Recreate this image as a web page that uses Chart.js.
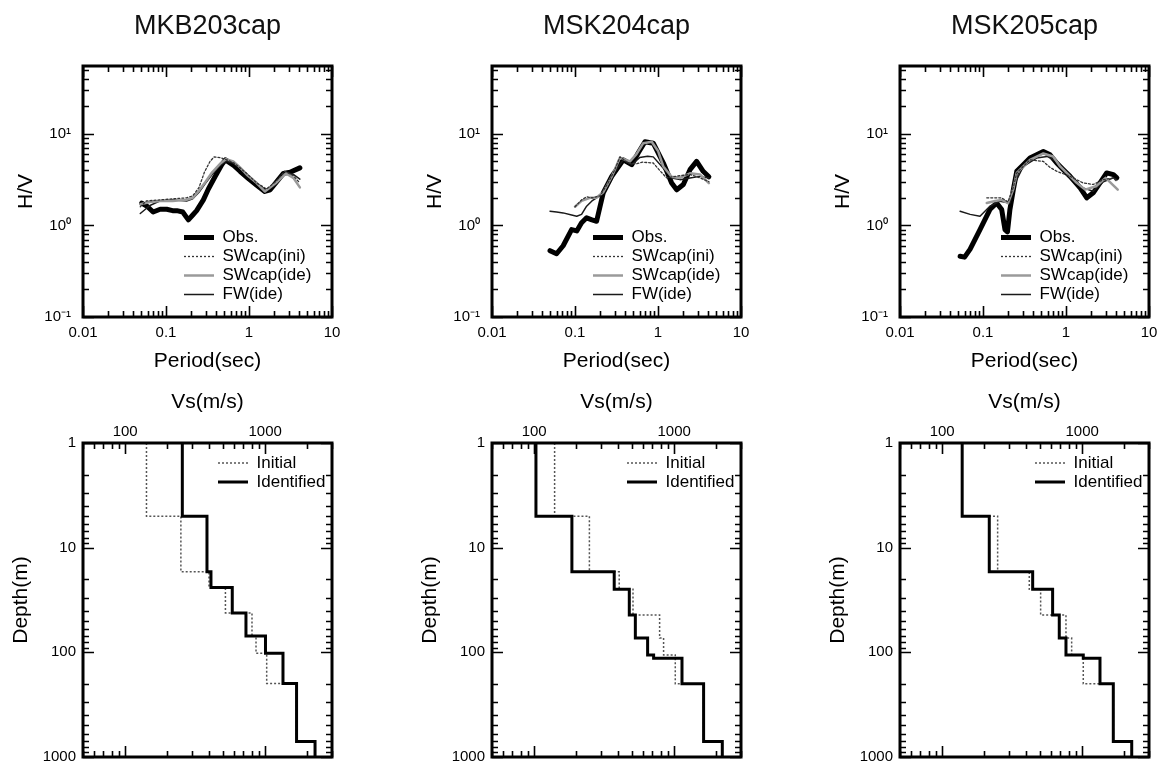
<!DOCTYPE html>
<html>
<head>
<meta charset="utf-8">
<script src="https://cdn.jsdelivr.net/npm/chart.js@4.4.1/dist/chart.umd.min.js"></script>
<style>
  body { margin: 0; background: #fff; }
  #wrap { position: relative; width: 1161px; height: 762px; overflow: hidden; background: #fff; }
  canvas { position: absolute; }
</style>
</head>
<body>
<div id="wrap">
  <canvas id="hv1" width="415" height="390" style="left:0;top:0"></canvas>
  <canvas id="hv2" width="415" height="390" style="left:409px;top:0"></canvas>
  <canvas id="hv3" width="415" height="390" style="left:817px;top:0"></canvas>
  <canvas id="vs1" width="415" height="372" style="left:0;top:390px"></canvas>
  <canvas id="vs2" width="415" height="372" style="left:409px;top:390px"></canvas>
  <canvas id="vs3" width="415" height="372" style="left:817px;top:390px"></canvas>
</div>
<script>
Chart.defaults.font.family = "'Liberation Sans', Arial, Helvetica, sans-serif";
Chart.defaults.color = '#000';

const siteNames = ['MKB203cap', 'MSK204cap', 'MSK205cap'];
const seriesNames = ['Obs.', 'SWcap(ini)', 'SWcap(ide)', 'FW(ide)'];
const profileNames = ['Initial', 'Identified'];

const periodTicks = [0.01, 0.1, 1, 10];
const periodTickLabels = ['0.01', '0.1', '1', '10'];
const hvTicks = [0.1, 1, 10];
const hvTickLabels = ['10⁻¹', '10⁰', '10¹'];
const vsTicks = [100, 1000];
const vsTickLabels = ['100', '1000'];
const depthTicks = [1, 10, 100, 1000];
const depthTickLabels = ['1', '10', '100', '1000'];

// MKB203cap  H/V spectra (period sec, H/V)
const mkbObsT = [0.051, 0.06, 0.07, 0.085, 0.102, 0.12, 0.135, 0.159, 0.186, 0.21, 0.234, 0.282, 0.324, 0.389, 0.469, 0.52, 0.66, 0.78, 1.0, 1.24, 1.55, 1.8, 2.16, 2.6, 3.12, 4.1];
const mkbObsHV = [1.75, 1.6, 1.4, 1.5, 1.5, 1.45, 1.45, 1.4, 1.15, 1.3, 1.45, 1.9, 2.5, 3.4, 4.6, 5.2, 4.5, 3.9, 3.2, 2.75, 2.35, 2.45, 3.0, 3.7, 3.8, 4.25];
const mkbIniT = [0.049, 0.058, 0.085, 0.12, 0.177, 0.21, 0.25, 0.29, 0.339, 0.38, 0.45, 0.539, 0.66, 0.938, 1.24, 1.63, 2.1, 2.7, 3.42, 4.1];
const mkbIniHV = [1.6, 1.85, 1.9, 1.95, 2.0, 2.1, 2.6, 3.8, 5.0, 5.6, 5.5, 5.2, 4.8, 3.7, 2.9, 2.5, 3.0, 3.9, 3.5, 2.9];
const mkbIdeT = [0.049, 0.064, 0.085, 0.12, 0.177, 0.21, 0.25, 0.3, 0.36, 0.448, 0.53, 0.647, 0.78, 0.938, 1.24, 1.55, 2.1, 2.8, 3.42, 4.1];
const mkbIdeHV = [1.7, 1.8, 1.85, 1.85, 1.9, 2.0, 2.4, 3.0, 3.8, 4.7, 5.3, 5.0, 4.3, 3.6, 2.9, 2.35, 2.9, 3.7, 3.3, 2.6];
const mkbFwT = [0.049, 0.064, 0.085, 0.12, 0.177, 0.21, 0.25, 0.3, 0.36, 0.448, 0.53, 0.647, 0.78, 0.938, 1.24, 1.55, 2.1, 2.8, 3.42, 4.1];
const mkbFwHV = [1.35, 1.65, 1.85, 1.9, 1.85, 1.95, 2.3, 2.9, 3.6, 4.5, 5.0, 4.8, 4.2, 3.5, 2.9, 2.3, 2.8, 3.8, 3.6, 3.2];

// MSK204cap
const s204ObsT = [0.05, 0.06, 0.072, 0.091, 0.105, 0.12, 0.138, 0.16, 0.182, 0.219, 0.277, 0.382, 0.482, 0.579, 0.697, 0.877, 1.16, 1.46, 1.68, 2.02, 2.43, 2.92, 3.5, 4.1];
const s204ObsHV = [0.53, 0.49, 0.6, 0.9, 0.87, 1.07, 1.21, 1.15, 1.11, 2.27, 3.43, 5.2, 4.6, 6.2, 8.2, 7.9, 4.8, 2.9, 2.45, 2.8, 4.06, 5.0, 3.9, 3.4];
const s204IniT = [0.1, 0.12, 0.138, 0.16, 0.2, 0.25, 0.3, 0.348, 0.44, 0.55, 0.65, 0.877, 1.1, 1.27, 1.68, 2.43, 3.2, 4.1];
const s204IniHV = [1.6, 1.9, 2.05, 2.0, 2.1, 2.9, 4.0, 5.6, 4.8, 4.7, 4.9, 4.8, 3.8, 3.3, 3.45, 3.6, 3.3, 3.0];
const s204IdeT = [0.1, 0.12, 0.152, 0.18, 0.219, 0.277, 0.348, 0.46, 0.55, 0.665, 0.84, 1.0, 1.16, 1.46, 1.84, 2.43, 3.2, 4.1];
const s204IdeHV = [1.6, 1.85, 2.0, 2.0, 2.3, 3.4, 5.5, 5.0, 6.0, 7.9, 8.2, 6.5, 4.4, 3.4, 3.3, 3.7, 3.6, 2.9];
const s204FwT = [0.05, 0.06, 0.072, 0.091, 0.105, 0.12, 0.138, 0.16, 0.182, 0.219, 0.277, 0.382, 0.482, 0.6, 0.75, 0.877, 1.16, 1.46, 1.84, 2.43, 3.2, 4.1];
const s204FwHV = [1.43, 1.4, 1.37, 1.3, 1.26, 1.32, 1.62, 1.85, 2.0, 2.27, 3.43, 5.2, 4.6, 5.5, 5.7, 5.6, 4.2, 3.3, 3.16, 3.3, 3.43, 3.3];

// MSK205cap
const s205ObsT = [0.053, 0.06, 0.07, 0.092, 0.121, 0.146, 0.168, 0.184, 0.197, 0.211, 0.232, 0.255, 0.306, 0.368, 0.443, 0.533, 0.642, 0.773, 0.93, 1.12, 1.48, 1.78, 2.13, 2.57, 3.09, 3.72, 4.1];
const s205ObsHV = [0.46, 0.45, 0.55, 0.9, 1.49, 1.76, 1.49, 0.9, 0.85, 1.49, 2.46, 3.89, 4.6, 5.44, 5.9, 6.4, 5.9, 4.8, 4.06, 3.43, 2.57, 2.0, 2.27, 2.91, 3.74, 3.58, 3.3];
const s205IniT = [0.111, 0.13, 0.168, 0.2, 0.232, 0.255, 0.368, 0.533, 0.64, 0.773, 1.12, 1.6, 2.13, 2.82, 3.72, 4.1];
const s205IniHV = [2.0, 2.0, 2.0, 1.8, 2.6, 3.74, 5.2, 5.0, 4.3, 3.9, 3.43, 2.91, 2.8, 3.16, 3.3, 3.0];
const s205IdeT = [0.111, 0.14, 0.168, 0.2, 0.232, 0.255, 0.368, 0.533, 0.7, 0.85, 1.3, 1.7, 2.3, 3.0, 4.2];
const s205IdeHV = [1.76, 1.85, 1.9, 1.75, 2.5, 3.74, 5.2, 6.1, 5.66, 4.4, 3.0, 2.46, 2.68, 3.3, 2.46];
const s205FwT = [0.053, 0.07, 0.092, 0.121, 0.16, 0.211, 0.243, 0.306, 0.443, 0.59, 0.773, 1.12, 1.6, 2.13, 2.82, 3.72, 4.1];
const s205FwHV = [1.43, 1.32, 1.26, 1.62, 1.84, 1.76, 2.9, 4.4, 5.44, 5.66, 5.0, 3.43, 2.57, 2.36, 3.0, 3.3, 3.16];

// Vs profiles: layer boundaries (m) and layer velocities (m/s)
const mkbDepth = [1, 5, 17, 24, 42, 70, 102, 198, 713, 1000];
const mkbVsIni = [142, 250, 397, 520, 805, 860, 1025, 1675, 2270];
const mkbVsIde = [256, 384, 410, 582, 729, 1005, 1340, 1675, 2270];

const s204Depth = [1, 5, 17, 25, 44, 73, 106, 114, 200, 713, 1000];
const s204VsIni = [140, 248, 405, 508, 787, 840, 1018, 1018, 1622, 2206];
const s204VsIde = [103, 186, 373, 478, 528, 646, 713, 1137, 1622, 2206];

const s205Depth = [1, 5, 17, 25, 44, 73, 106, 114, 200, 713, 1000];
const s205VsIni = [139, 249, 419, 505, 766, 841, 1018, 1018, 1668, 2258];
const s205VsIde = [139, 217, 443, 615, 686, 766, 1018, 1340, 1668, 2258];

const hvStyles = [
  {borderColor: '#000', borderWidth: 5, order: 1},
  {borderColor: '#333', borderWidth: 1.3, borderDash: [2, 2], order: 0},
  {borderColor: '#9a9a9a', borderWidth: 2.5, order: 0},
  {borderColor: '#1a1a1a', borderWidth: 1.5, order: 0}
];
const vsStyles = [
  {borderColor: '#555', borderWidth: 1.5, borderDash: [2, 2], order: 1},
  {borderColor: '#000', borderWidth: 3, order: 0}
];

function pts(xs, ys) {
  return xs.map((x, i) => ({x: x, y: ys[i]}));
}

// step profile: velocity of each layer from its top depth, closed at the last depth
function steps(vs, depth) {
  const p = vs.map((v, i) => ({x: v, y: depth[i]}));
  p.push({x: vs[vs.length - 1], y: depth[depth.length - 1]});
  return p;
}

function fixedTicks(values) {
  return scale => { scale.ticks = values.map(v => ({value: v})); };
}

function fixSize(prop, size) {
  return scale => {
    scale[prop] = size;
    scale.paddingLeft = scale.paddingRight = scale.paddingTop = scale.paddingBottom = 0;
  };
}

function logTicks(min, max) {
  const out = [];
  for (let e = Math.floor(Math.log10(min)); e <= Math.ceil(Math.log10(max)); e++) {
    for (let m = 1; m <= 9; m++) {
      const v = m * Math.pow(10, e);
      if (v >= min * 0.999 && v <= max * 1.001) out.push([v, m === 1]);
    }
  }
  return out;
}

// box frame with inward ticks on all four sides
const frame = {
  id: 'frame',
  afterDatasetsDraw(chart) {
    const {ctx, chartArea: a, scales: {x, y}} = chart;
    ctx.save();
    ctx.strokeStyle = '#000';
    ctx.lineWidth = 1.6;
    ctx.beginPath();
    logTicks(x.min, x.max).forEach(([v, major]) => {
      const px = Math.round(x.getPixelForValue(v)) + 0.5;
      const len = major ? 11 : 6;
      ctx.moveTo(px, a.top); ctx.lineTo(px, a.top + len);
      ctx.moveTo(px, a.bottom); ctx.lineTo(px, a.bottom - len);
    });
    logTicks(y.min, y.max).forEach(([v, major]) => {
      const py = Math.round(y.getPixelForValue(v)) + 0.5;
      const len = major ? 11 : 6;
      ctx.moveTo(a.left, py); ctx.lineTo(a.left + len, py);
      ctx.moveTo(a.right, py); ctx.lineTo(a.right - len, py);
    });
    ctx.stroke();
    ctx.lineWidth = 3;
    ctx.strokeRect(a.left, a.top, a.right - a.left, a.bottom - a.top);
    ctx.restore();
  }
};

// moves the chartArea legend to an offset inside the plot, centres the title on the plot
const placeLegend = {
  id: 'placeLegend',
  afterLayout(chart, args, opts) {
    const lg = chart.legend, a = chart.chartArea;
    if (lg) {
      lg.left = a.left + opts.x;
      lg.top = a.top + opts.y;
      lg.right = lg.left + lg.width;
      lg.bottom = lg.top + lg.height;
    }
    if (chart.titleBlock) {
      chart.titleBlock.left = a.left;
      chart.titleBlock.right = a.right;
    }
  }
};

function legendOpts() {
  return {
    position: 'chartArea',
    align: 'start',
    labels: {
      usePointStyle: true,
      pointStyle: 'line',
      pointStyleWidth: 30,
      padding: 2,
      color: '#000',
      font: {size: 17},
      generateLabels: chart => Chart.defaults.plugins.legend.labels.generateLabels(chart).map(l => {
        const ds = chart.data.datasets[l.datasetIndex];
        l.lineDash = ds.borderDash || [];
        l.lineWidth = ds.borderWidth;
        l.lineCap = 'butt';
        return l;
      }),
      sort: (a, b) => a.datasetIndex - b.datasetIndex
    }
  };
}

function hvChart(id, title, series) {
  new Chart(document.getElementById(id), {
    type: 'line',
    data: {
      datasets: series.map((d, i) => Object.assign({
        label: seriesNames[i],
        data: d,
        pointRadius: 0,
        fill: false,
        tension: 0,
        borderCapStyle: 'round',
        borderJoinStyle: 'round'
      }, hvStyles[i]))
    },
    options: {
      responsive: false,
      animation: false,
      layout: {padding: {left: 0, right: 83, top: 0, bottom: 0}},
      scales: {
        x: {
          type: 'logarithmic', min: 0.01, max: 10,
          grid: {display: false, drawTicks: false},
          border: {display: false},
          ticks: {autoSkip: false, maxRotation: 0, padding: 7, font: {size: 15},
                  callback: (v, i) => periodTickLabels[i]},
          title: {display: true, text: 'Period(sec)', font: {size: 21}, padding: {top: 0, bottom: 16}},
          afterBuildTicks: fixedTicks(periodTicks),
          afterFit: fixSize('height', 73)
        },
        y: {
          type: 'logarithmic', min: 0.1, max: 55,
          grid: {display: false, drawTicks: false},
          border: {display: false},
          ticks: {autoSkip: false, padding: 12, font: {size: 15},
                  callback: (v, i) => hvTickLabels[i]},
          title: {display: true, text: 'H/V', font: {size: 21}, padding: {top: 14, bottom: 0}},
          afterBuildTicks: fixedTicks(hvTicks),
          afterFit: fixSize('width', 83)
        }
      },
      plugins: {
        title: {display: true, text: title, color: '#111',
                font: {size: 27, weight: 'normal'}, padding: {top: 10, bottom: 23.6}},
        legend: legendOpts(),
        tooltip: {enabled: false},
        placeLegend: {x: 99, y: 161}
      }
    },
    plugins: [placeLegend, frame]
  });
}

function vsChart(id, depth, vsIni, vsIde) {
  new Chart(document.getElementById(id), {
    type: 'line',
    data: {
      datasets: [steps(vsIni, depth), steps(vsIde, depth)].map((d, i) => Object.assign({
        label: profileNames[i],
        data: d,
        stepped: 'after',
        pointRadius: 0,
        fill: false
      }, vsStyles[i]))
    },
    options: {
      responsive: false,
      animation: false,
      layout: {padding: {left: 0, right: 83, top: 0, bottom: 5}},
      scales: {
        x: {
          type: 'logarithmic', position: 'top', min: 50, max: 3000,
          grid: {display: false, drawTicks: false},
          border: {display: false},
          ticks: {autoSkip: false, maxRotation: 0, padding: 2, font: {size: 15},
                  callback: (v, i) => vsTickLabels[i]},
          title: {display: true, text: 'Vs(m/s)', font: {size: 21}, padding: {top: 0, bottom: 0}},
          afterBuildTicks: fixedTicks(vsTicks),
          afterFit: fixSize('height', 53)
        },
        y: {
          type: 'logarithmic', reverse: true, min: 1, max: 1000,
          grid: {display: false, drawTicks: false},
          border: {display: false},
          ticks: {autoSkip: false, padding: 7, font: {size: 15},
                  callback: (v, i) => depthTickLabels[i]},
          title: {display: true, text: 'Depth(m)', font: {size: 21}, padding: {top: 9, bottom: 0}},
          afterBuildTicks: fixedTicks(depthTicks),
          afterFit: fixSize('width', 83)
        }
      },
      plugins: {
        legend: legendOpts(),
        tooltip: {enabled: false},
        placeLegend: {x: 133, y: 9.5}
      }
    },
    plugins: [placeLegend, frame]
  });
}

hvChart('hv1', siteNames[0], [pts(mkbObsT, mkbObsHV), pts(mkbIniT, mkbIniHV), pts(mkbIdeT, mkbIdeHV), pts(mkbFwT, mkbFwHV)]);
hvChart('hv2', siteNames[1], [pts(s204ObsT, s204ObsHV), pts(s204IniT, s204IniHV), pts(s204IdeT, s204IdeHV), pts(s204FwT, s204FwHV)]);
hvChart('hv3', siteNames[2], [pts(s205ObsT, s205ObsHV), pts(s205IniT, s205IniHV), pts(s205IdeT, s205IdeHV), pts(s205FwT, s205FwHV)]);

vsChart('vs1', mkbDepth, mkbVsIni, mkbVsIde);
vsChart('vs2', s204Depth, s204VsIni, s204VsIde);
vsChart('vs3', s205Depth, s205VsIni, s205VsIde);
</script>
</body>
</html>
